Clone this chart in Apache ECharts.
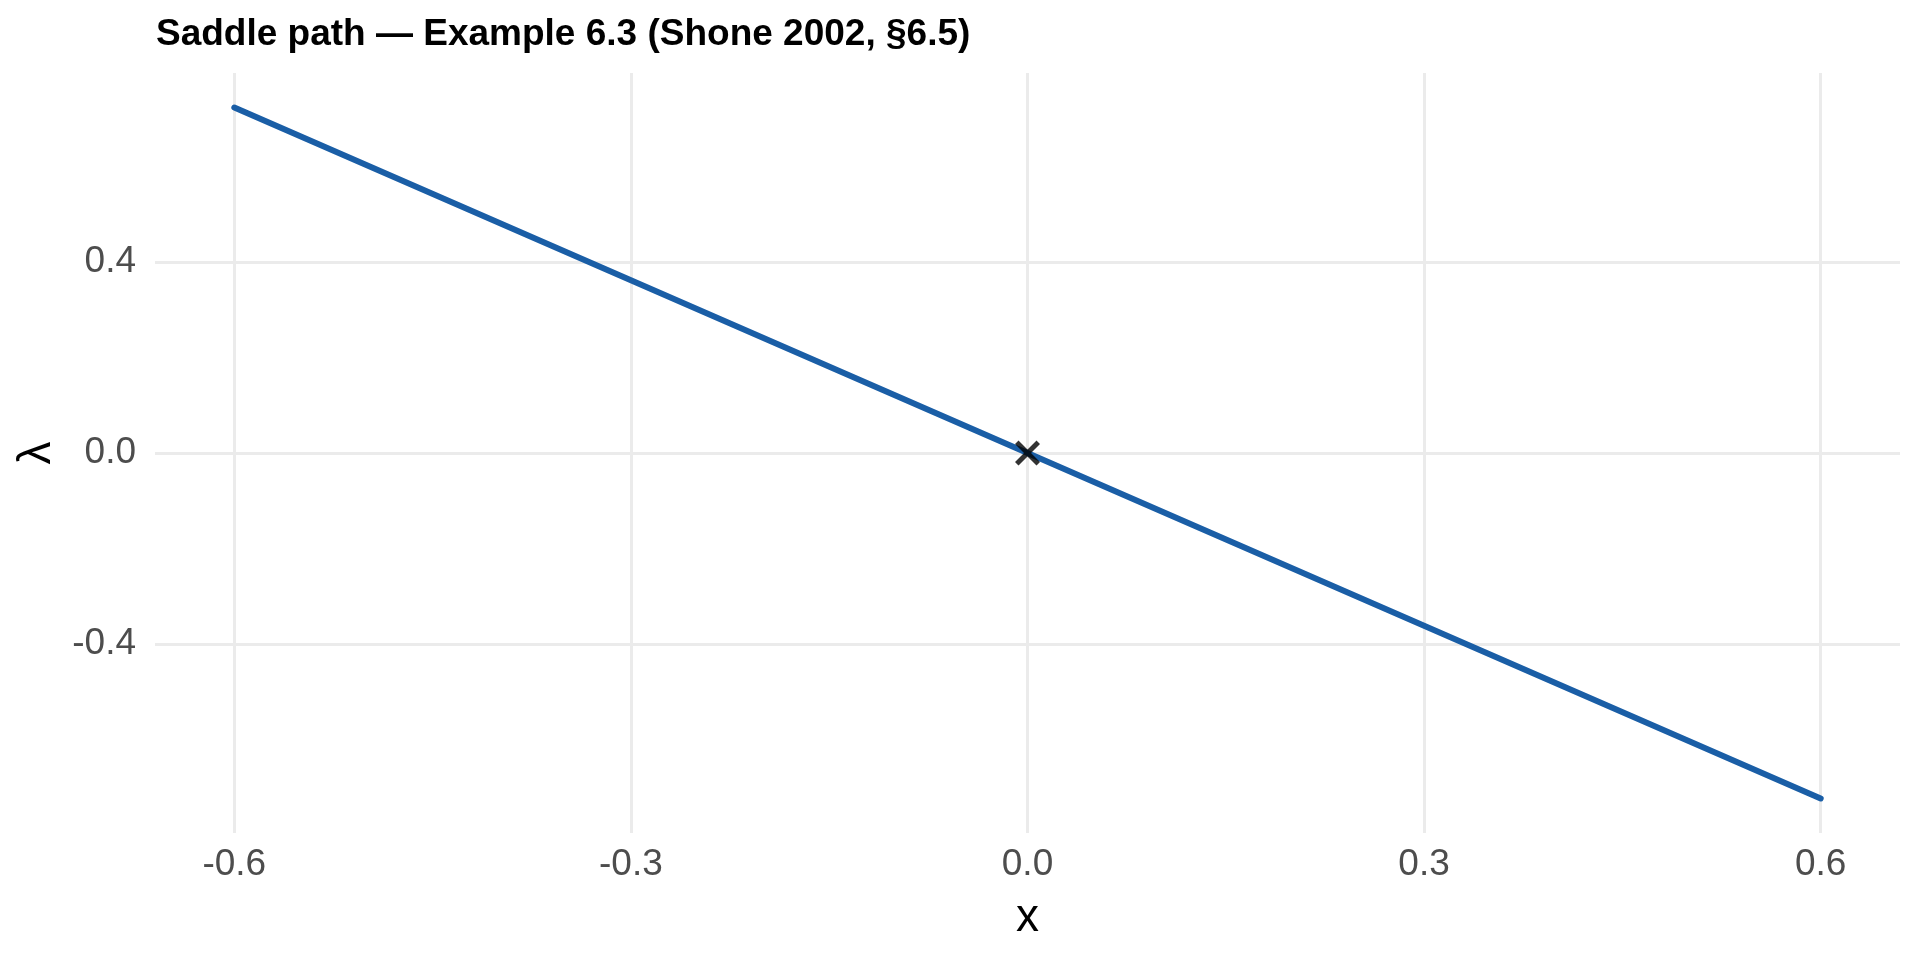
<!DOCTYPE html>
<html>
<head>
<meta charset="utf-8">
<script src="https://cdn.jsdelivr.net/npm/echarts@6/dist/echarts.min.js"></script>
<style>
  html, body { margin: 0; padding: 0; background: #ffffff; }
  #chart { width: 1920px; height: 960px; }
</style>
</head>
<body>
<div id="chart"></div>
<script>
// Data
const titleText = 'Saddle path \u2014 Example 6.3 (Shone 2002, \u00a76.5)';
const pathX = [-0.6, 0, 0.6];
const pathLambda = [0.724, 0, -0.724];
const equilibriumX = [0];
const equilibriumLambda = [0];
const xTicks = [-0.6, -0.3, 0, 0.3, 0.6];
const yTicks = [-0.4, 0, 0.4];
const xRange = [-0.66, 0.66];
const yRange = [-0.7964, 0.7964];

const FONT = '"Liberation Sans", Arial, Helvetica, sans-serif';
const chart = echarts.init(document.getElementById('chart'), null, { renderer: 'canvas' });

const crossPath = 'path://M0,1.4 L1.4,0 L5,3.6 L8.6,0 L10,1.4 L6.4,5 L10,8.6 L8.6,10 L5,6.4 L1.4,10 L0,8.6 L3.6,5 Z';

chart.setOption({
  backgroundColor: '#ffffff',
  animation: false,
  title: {
    text: titleText,
    left: 151,
    top: 11,
    textStyle: { fontFamily: FONT, fontWeight: 'bold', fontSize: 37, color: '#000000' }
  },
  grid: { left: 155, right: 20, top: 73, bottom: 127, containLabel: false },
  xAxis: {
    type: 'value',
    min: xRange[0],
    max: xRange[1],
    name: 'x',
    nameLocation: 'middle',
    nameGap: 62,
    nameTextStyle: { fontFamily: FONT, fontSize: 46, color: '#000000' },
    axisLine: { show: false },
    axisTick: { show: false, customValues: xTicks },
    axisLabel: {
      customValues: xTicks,
      margin: 13,
      fontFamily: FONT, fontSize: 37, color: '#4d4d4d',
      formatter: v => v.toFixed(1)
    },
    splitLine: { show: true, lineStyle: { color: '#ebebeb', width: 3 } }
  },
  yAxis: {
    type: 'value',
    min: yRange[0],
    max: yRange[1],
    name: '\u03bb',
    nameLocation: 'middle',
    nameRotate: 90,
    nameGap: 95,
    nameTextStyle: { fontFamily: FONT, fontSize: 46, color: '#000000' },
    axisLine: { show: false },
    axisTick: { show: false, customValues: yTicks },
    axisLabel: {
      customValues: yTicks,
      margin: 19,
      fontFamily: FONT, fontSize: 37, color: '#4d4d4d',
      formatter: v => v.toFixed(1)
    },
    splitLine: { show: true, lineStyle: { color: '#ebebeb', width: 3 } }
  },
  series: [
    {
      type: 'line',
      data: pathX.map((x, i) => [x, pathLambda[i]]),
      showSymbol: false,
      symbol: 'none',
      lineStyle: { color: '#1a5ea6', width: 6, cap: 'round' },
      z: 2
    },
    {
      type: 'scatter',
      data: equilibriumX.map((x, i) => [x, equilibriumLambda[i]]),
      symbol: crossPath,
      symbolSize: 25,
      itemStyle: { color: '#000000' },
      z: 3
    }
  ]
});
</script>
</body>
</html>
